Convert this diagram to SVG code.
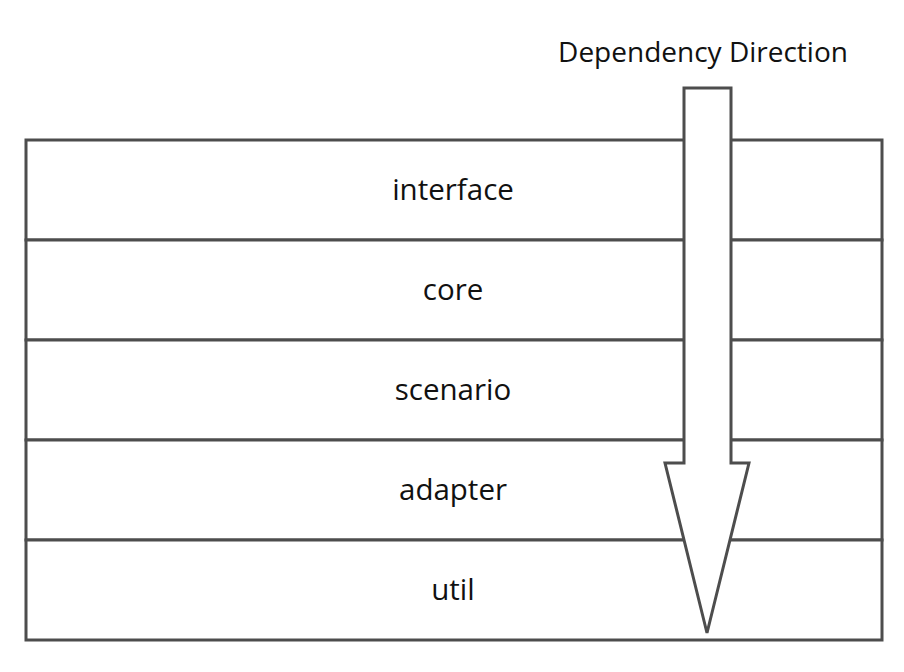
<svg xmlns="http://www.w3.org/2000/svg" width="904" height="672" viewBox="0 0 904 672">
<style>
.layer{fill:#ffffff;stroke:#4d4d4d;stroke-width:3}
.lbl{font-family:"Open Sans",sans-serif;font-size:29.5px;fill:#111111;text-anchor:middle}
.arrow{fill:#ffffff;stroke:#4d4d4d;stroke-width:3;stroke-linejoin:miter}
</style>
<rect width="904" height="672" fill="#ffffff"/>
<g id="interface"><rect class="layer" x="26" y="140" width="856" height="100"/><text class="lbl" x="453" y="200">interface</text></g>
<g id="core"><rect class="layer" x="26" y="240" width="856" height="100"/><text class="lbl" x="453" y="300">core</text></g>
<g id="scenario"><rect class="layer" x="26" y="340" width="856" height="100"/><text class="lbl" x="453" y="400">scenario</text></g>
<g id="adapter"><rect class="layer" x="26" y="440" width="856" height="100"/><text class="lbl" x="453" y="500">adapter</text></g>
<g id="util"><rect class="layer" x="26" y="540" width="856" height="100"/><text class="lbl" x="453" y="600">util</text></g>
<g id="connectors">
<polygon class="arrow" points="684,88 731,88 731,463 749,463 707,633 665,463 684,463"/>
<text x="703" y="62" style="font-family:'Open Sans',sans-serif;font-size:28px;fill:#111111;text-anchor:middle">Dependency Direction</text>
</g>
</svg>
